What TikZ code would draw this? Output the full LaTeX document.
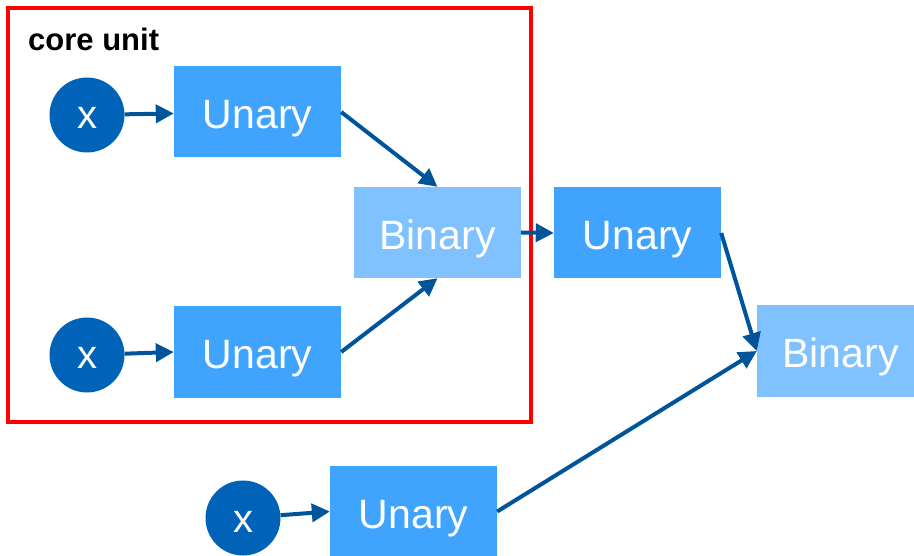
\documentclass[tikz,border=0pt]{standalone}
\usepackage{fontspec}
\setmainfont{Liberation Sans}
\usetikzlibrary{arrows.meta}

\definecolor{inblue}{RGB}{0,99,184}
\definecolor{unblue}{RGB}{64,164,255}
\definecolor{biblue}{RGB}{128,194,255}
\definecolor{arblue}{RGB}{0,84,153}

\tikzset{
  inpt/.style={circle, fill=inblue, text=white, minimum size=75pt, inner sep=0pt,
               text height=28pt, text depth=0pt, font=\fontsize{40}{44}\selectfont},
  unary/.style={rectangle, fill=unblue, text=white, minimum width=167pt,
                minimum height=91pt, inner sep=0pt, text height=34pt, text depth=0pt,
                font=\fontsize{41}{48}\selectfont},
  binary/.style={unary, fill=biblue},
  flow/.style={draw=arblue, line width=4pt, -{Triangle[length=18pt,width=18pt]}}
}

\begin{document}
\begin{tikzpicture}[x=1pt, y=-1pt, line join=miter]
  \useasboundingbox (0,0) rectangle (914,556);
  % the core unit frame
  \draw[red, line width=4pt] (8,8) rectangle (531,422);
  \node[anchor=base west, inner sep=0pt, font=\fontsize{31}{36}\selectfont\bfseries]
    (lbl) at (28,51) {core unit};
  % inputs
  \node[inpt] (x1) at (87,115) {x};
  \node[inpt] (x2) at (87,355) {x};
  \node[inpt] (x3) at (243,518) {x};
  % operators
  \node[unary] (u1) at (257.5,112) {Unary};
  \node[unary] (u2) at (257.5,352) {Unary};
  \node[binary] (b1) at (437.5,232.5) {Binary};
  \node[unary] (u3) at (637.5,233) {Unary};
  \node[binary] (b2) at (840.5,351) {Binary};
  \node[unary] (u4) at (413.5,511.5) {Unary};
  % connections
  \draw[flow] (x1) -- (u1);
  \draw[flow] (x2) -- (u2.west);
  \draw[flow] (x3) -- (u4.west);
  \draw[flow] (u1.east) -- (b1.north);
  \draw[flow] (u2.east) -- (b1.south);
  \draw[flow] (b1.east) -- (u3.west);
  \draw[flow] (u3.east) -- (b2.west);
  \draw[flow] (u4.east) -- (b2.west);
\end{tikzpicture}
\end{document}
